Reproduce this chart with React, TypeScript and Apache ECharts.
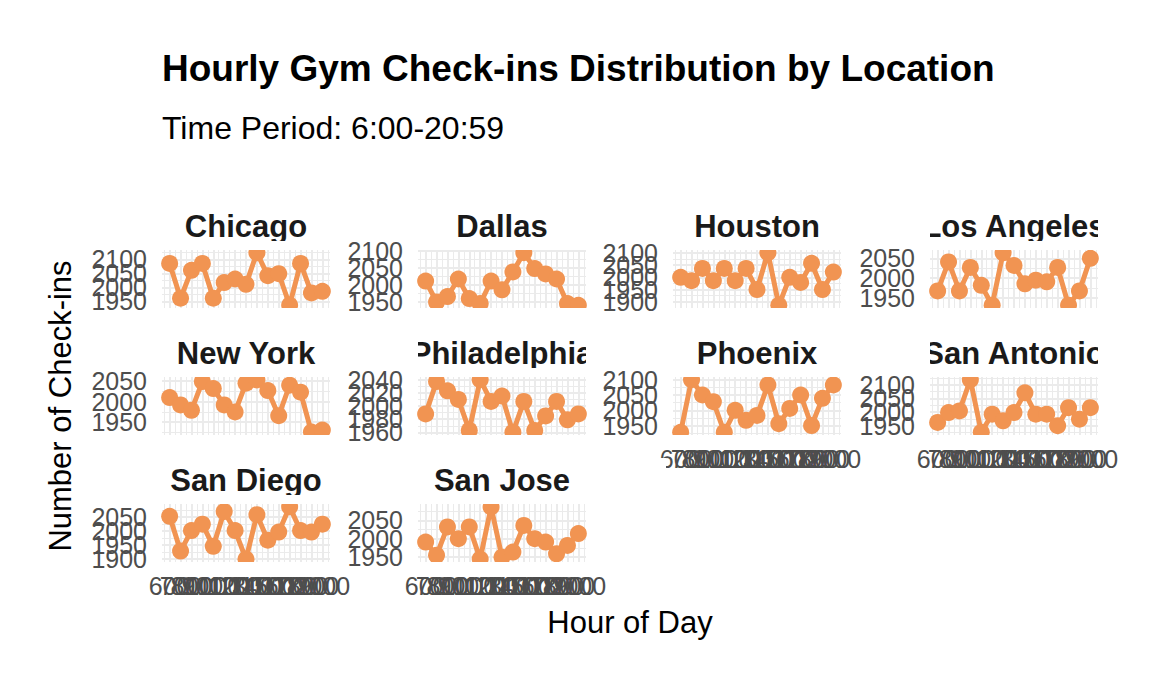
import React, { useEffect, useRef } from "react";
import * as echarts from "echarts";

const FONT = '"Liberation Sans", Arial, Helvetica, sans-serif';
const ORANGE = "#F19452";
const GRID = "#EBEBEB";

const hours = [6, 7, 8, 9, 10, 11, 12, 13, 14, 15, 16, 17, 18, 19, 20];
const xTickLabels = ["600", "700", "800", "900", "1000", "1100", "1200", "1300", "1400", "1500", "1600", "1700", "1800", "1900", "2000"];

const locations = ["Chicago", "Dallas", "Houston", "Los Angeles", "New York", "Philadelphia", "Phoenix", "San Antonio", "San Diego", "San Jose"];

const chicago = [2086, 1961, 2061, 2086, 1961, 2017, 2030, 2011, 2124, 2042, 2049, 1936, 2086, 1980, 1986];
const dallas = [2011, 1949, 1965, 2017, 1959, 1944, 2011, 1985, 2038, 2095, 2048, 2032, 2017, 1944, 1939];
const houston = [2000, 1986, 2036, 1986, 2036, 1986, 2036, 1950, 2100, 1886, 2000, 1979, 2057, 1950, 2021];
const losAngeles = [1968, 2041, 1968, 2027, 1982, 1932, 2064, 2032, 1986, 1995, 1991, 2027, 1932, 1968, 2050];
const newYork = [2010, 1992, 1979, 2049, 2032, 1992, 1975, 2045, 2053, 2027, 1966, 2040, 2023, 1926, 1931];
const philadelphia = [1988, 2037, 2023, 2010, 1963, 2040, 2007, 2015, 1960, 2007, 1963, 1985, 2007, 1979, 1988];
const phoenix = [1928, 2100, 2050, 2028, 1928, 2000, 1967, 1983, 2083, 1956, 2006, 2050, 1950, 2039, 2083];
const sanAntonio = [1962, 1998, 2004, 2118, 1926, 1992, 1968, 1998, 2070, 1992, 1992, 1950, 2016, 1974, 2016];
const sanDiego = [2053, 1929, 2002, 2025, 1946, 2070, 2002, 1900, 2059, 1968, 1997, 2087, 2002, 1997, 2025];
const sanJose = [1991, 1955, 2032, 2000, 2032, 1945, 2086, 1950, 1964, 2036, 2000, 1991, 1959, 1982, 2014];

const chicagoTicks = [1950, 2000, 2050, 2100];
const dallasTicks = [1950, 2000, 2050, 2100];
const houstonTicks = [1900, 1950, 2000, 2050, 2100];
const losAngelesTicks = [1950, 2000, 2050];
const newYorkTicks = [1950, 2000, 2050];
const philadelphiaTicks = [1960, 1980, 2000, 2020, 2040];
const phoenixTicks = [1950, 2000, 2050, 2100];
const sanAntonioTicks = [1950, 2000, 2050, 2100];
const sanDiegoTicks = [1900, 1950, 2000, 2050];
const sanJoseTicks = [1950, 2000, 2050];

const seriesValues = [chicago, dallas, houston, losAngeles, newYork, philadelphia, phoenix, sanAntonio, sanDiego, sanJose];
const yTicks = [chicagoTicks, dallasTicks, houstonTicks, losAngelesTicks, newYorkTicks, philadelphiaTicks, phoenixTicks, sanAntonioTicks, sanDiegoTicks, sanJoseTicks];
const showXLabels = [false, false, false, false, false, false, true, true, true, true];

// layout
const colLefts = [162, 418, 673, 930];
const rowTops = [250, 377, 504];
const PW = 168;
const PH = 58;

export default function App() {
  const ref = useRef<HTMLDivElement>(null);

  useEffect(() => {
    if (!ref.current) return;
    const chart = echarts.init(ref.current, undefined, { renderer: "svg" });

    const grids: any[] = [];
    const xAxes: any[] = [];
    const yAxes: any[] = [];
    const series: any[] = [];
    const graphics: any[] = [];

    const span = hours[hours.length - 1] - hours[0];
    const xMin = Math.round((hours[0] - 0.05 * span) * 10) / 10;
    const xMax = Math.round((hours[hours.length - 1] + 0.05 * span) * 10) / 10;

    locations.forEach((loc, i) => {
      const r = Math.floor(i / 4);
      const c = i % 4;
      const left = colLefts[c];
      const top = rowTops[r];
      const vals = seriesValues[i];
      const dMin = Math.min(...vals);
      const dMax = Math.max(...vals);
      const pad = 0.05 * (dMax - dMin);
      const yMin = Math.floor(dMin - pad);
      const yMax = Math.ceil(dMax + pad);
      const ticks = yTicks[i];
      const step = ticks[1] - ticks[0];
      const minor: number[] = [];
      for (let v = ticks[0] - step / 2; v <= ticks[ticks.length - 1] + step / 2 + 0.001; v += step) {
        if (v >= yMin && v <= yMax) minor.push(v);
      }
      const xMinor: number[] = [];
      for (let h = hours[0] - 0.5; h <= hours[hours.length - 1] + 0.5; h += 1) {
        if (h >= xMin && h <= xMax) xMinor.push(h);
      }

      grids.push({ left, top, width: PW, height: PH, containLabel: false });
      xAxes.push({
        type: "value",
        gridIndex: i,
        min: xMin,
        max: xMax,
        interval: 0.1,
        axisLine: { show: false },
        axisTick: { show: false },
        splitLine: { show: false },
        axisLabel: {
          show: showXLabels[i],
          formatter: (v: number) => {
            const k = Math.round(v);
            if (Math.abs(v - k) > 1e-6) return "";
            const idx = hours.indexOf(k);
            return idx >= 0 ? xTickLabels[idx] : "";
          },
          fontSize: 25,
          color: "#4D4D4D",
          fontFamily: FONT,
          margin: 11,
          hideOverlap: false,
          showMinLabel: true,
          showMaxLabel: true,
        },
      });
      yAxes.push({
        type: "value",
        gridIndex: i,
        min: yMin,
        max: yMax,
        interval: 1,
        axisLine: { show: false },
        axisTick: { show: false },
        splitLine: { show: false },
        axisLabel: {
          formatter: (v: number) => (ticks.indexOf(Math.round(v)) >= 0 && Math.abs(v - Math.round(v)) < 1e-6 ? String(Math.round(v)) : ""),
          fontSize: 25,
          color: "#4D4D4D",
          fontFamily: FONT,
          margin: 15,
          hideOverlap: false,
        },
      });
      const gridLines: any[] = [];
      minor.forEach((v) => gridLines.push({ yAxis: v, lineStyle: { width: 1, color: GRID, type: "solid" } }));
      xMinor.forEach((v) => gridLines.push({ xAxis: v, lineStyle: { width: 1, color: GRID, type: "solid" } }));
      ticks.forEach((v) => gridLines.push({ yAxis: v, lineStyle: { width: 2, color: GRID, type: "solid" } }));
      hours.forEach((v) => gridLines.push({ xAxis: v, lineStyle: { width: 2, color: GRID, type: "solid" } }));

      series.push({
        name: loc,
        type: "line",
        xAxisIndex: i,
        yAxisIndex: i,
        data: hours.map((h, j) => [h, vals[j]]),
        symbol: "circle",
        symbolSize: 17,
        showSymbol: true,
        lineStyle: { color: ORANGE, width: 5 },
        itemStyle: { color: ORANGE },
        clip: true,
        z: 3,
        markLine: {
          silent: true,
          z: 1,
          symbol: ["none", "none"],
          label: { show: false },
          emphasis: { disabled: true },
          data: gridLines,
        },
      });

      // strip title
      graphics.push({
        type: "text",
        x: left + PW / 2,
        y: top - 24,
        z: 50,
        style: {
          text: loc,
          fill: "#1A1A1A",
          font: `bold 31px ${FONT}`,
          textAlign: "center",
          textVerticalAlign: "middle",
        },
      });
      // clip strip title to panel width
      graphics.push({ type: "rect", z: 60, shape: { x: left - 86, y: top - 46, width: 86, height: 38 }, style: { fill: "#fff" } });
      graphics.push({ type: "rect", z: 60, shape: { x: left + PW, y: top - 46, width: 80, height: 38 }, style: { fill: "#fff" } });
      // clip points to panel area
      graphics.push({ type: "rect", z: 60, shape: { x: left - 2, y: top - 9, width: PW + 4, height: 9 }, style: { fill: "#fff" } });
      graphics.push({ type: "rect", z: 60, shape: { x: left - 2, y: top + PH, width: PW + 4, height: 9 }, style: { fill: "#fff" } });
    });

    graphics.push({
      type: "text",
      x: 60,
      y: 406,
      rotation: Math.PI / 2,
      z: 50,
      style: {
        text: "Number of Check-ins",
        fill: "#000",
        font: `31px ${FONT}`,
        textAlign: "center",
        textVerticalAlign: "middle",
      },
    });
    graphics.push({
      type: "text",
      x: 630,
      y: 622,
      z: 50,
      style: {
        text: "Hour of Day",
        fill: "#000",
        font: `31px ${FONT}`,
        textAlign: "center",
        textVerticalAlign: "middle",
      },
    });

    chart.setOption({
      animation: false,
      backgroundColor: "#fff",
      title: [
        {
          text: "Hourly Gym Check-ins Distribution by Location",
          left: 162,
          top: 50,
          padding: 0,
          textStyle: { fontSize: 37, fontWeight: "bold", color: "#000", fontFamily: FONT },
        },
        {
          text: "Time Period: 6:00-20:59",
          left: 162,
          top: 112,
          padding: 0,
          textStyle: { fontSize: 32, fontWeight: "normal", color: "#000", fontFamily: FONT },
        },
      ],
      grid: grids,
      xAxis: xAxes,
      yAxis: yAxes,
      series,
      graphic: { elements: graphics },
    });

    return () => chart.dispose();
  }, []);

  return <div ref={ref} style={{ position: "fixed", left: 0, top: 0, width: 1152, height: 691 }} />;
}
